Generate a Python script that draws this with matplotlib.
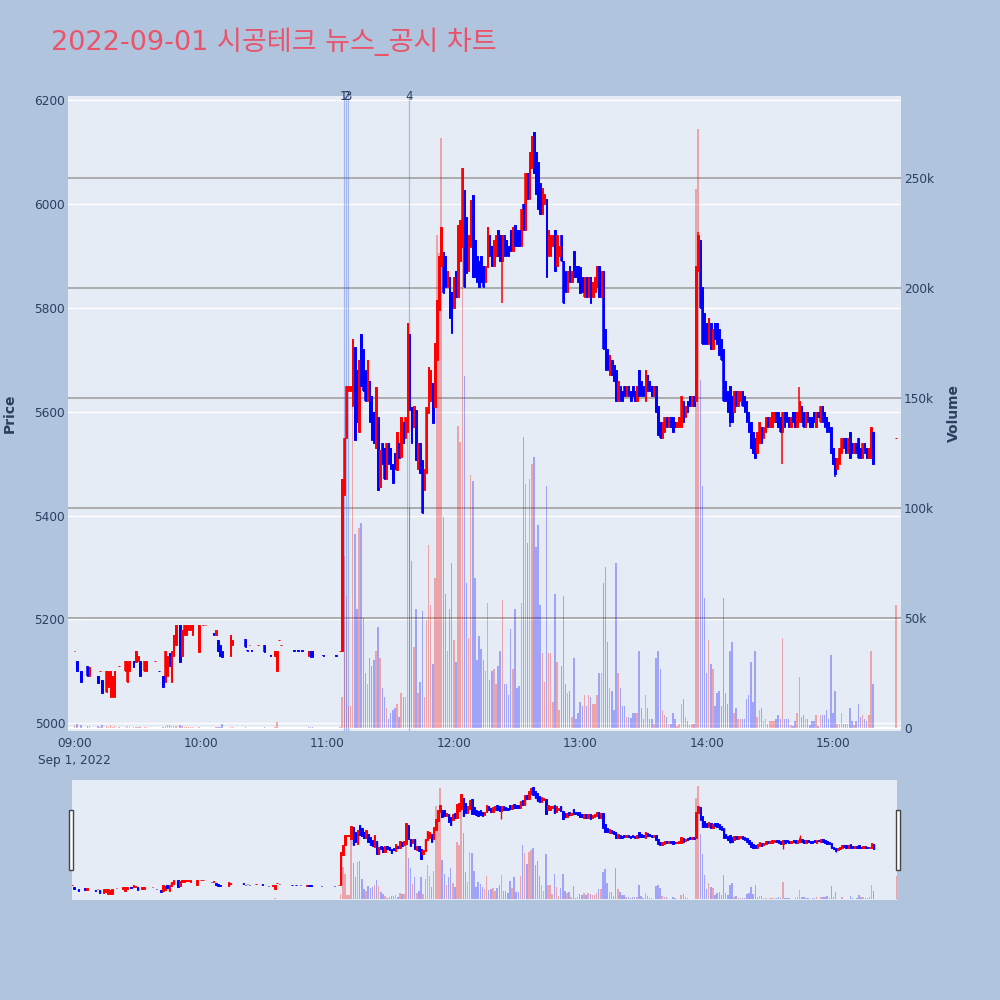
import matplotlib
matplotlib.use("Agg")
import matplotlib.pyplot as plt
import matplotlib.transforms as mtransforms
from matplotlib.patches import Rectangle

# ---------------- data ----------------
title = "2022-09-01 시공테크 뉴스_공시 차트"

morning_times = ["09:00", "09:01", "09:03", "09:06", "09:07", "09:11", "09:12", "09:13", "09:15", "09:16",
                 "09:17", "09:18", "09:19", "09:21", "09:24", "09:25", "09:26", "09:28", "09:29", "09:30",
                 "09:31", "09:33", "09:34", "09:38", "09:40", "09:42", "09:43", "09:44", "09:45", "09:46",
                 "09:47", "09:48", "09:50", "09:51", "09:52", "09:53", "09:54", "09:55", "09:56", "09:59",
                 "10:01", "10:02", "10:06", "10:07", "10:08", "10:09", "10:10", "10:14", "10:15", "10:21",
                 "10:22", "10:23", "10:24", "10:27", "10:30", "10:33", "10:35", "10:36", "10:37", "10:38",
                 "10:44", "10:46", "10:48", "10:51", "10:52", "10:53", "10:58", "11:04", "11:06"]
morning_open = [5140, 5120, 5100, 5110, 5090, 5090, 5100, 5083, 5060, 5070,
                5050, 5050, 5050, 5110, 5100, 5080, 5100, 5120, 5118, 5120,
                5120, 5100, 5100, 5120, 5101, 5090, 5080, 5090, 5135, 5080,
                5130, 5150, 5189, 5130, 5170, 5170, 5180, 5180, 5170, 5137,
                5190, 5190, 5173, 5170, 5160, 5150, 5140, 5130, 5150, 5162,
                5141, 5150, 5141, 5150, 5150, 5131, 5130, 5100, 5160, 5150,
                5141, 5141, 5141, 5130, 5140, 5140, 5131, 5131, 5140]
morning_close = [5140, 5100, 5080, 5090, 5108, 5078, 5100, 5058, 5100, 5100,
                 5100, 5090, 5100, 5110, 5120, 5120, 5120, 5108, 5140, 5130,
                 5090, 5120, 5120, 5120, 5100, 5070, 5140, 5130, 5110, 5140,
                 5170, 5190, 5118, 5180, 5190, 5190, 5190, 5190, 5190, 5190,
                 5190, 5190, 5170, 5180, 5140, 5130, 5128, 5170, 5160, 5147,
                 5140, 5150, 5140, 5150, 5137, 5130, 5140, 5140, 5160, 5150,
                 5140, 5140, 5140, 5140, 5128, 5128, 5130, 5130, 5140]
morning_volume = [1500, 2000, 1500, 1000, 1000, 800, 300, 1500, 800, 500,
                  1200, 600, 900, 200, 500, 700, 400, 300, 500, 300,
                  600, 400, 300, 100, 100, 600, 900, 1200, 1500, 800,
                  800, 1000, 1200, 900, 500, 300, 400, 300, 500, 400,
                  100, 100, 100, 300, 400, 300, 2000, 500, 300, 300,
                  100, 100, 100, 100, 400, 100, 200, 2500, 100, 100,
                  100, 100, 100, 300, 400, 300, 100, 100, 200]

session_times = [
    "11:07", "11:08", "11:09", "11:10", "11:11", "11:12", "11:13", "11:14", "11:15", "11:16",
    "11:17", "11:18", "11:19", "11:20", "11:21", "11:22", "11:23", "11:24", "11:25", "11:26",
    "11:27", "11:28", "11:29", "11:30", "11:31", "11:32", "11:33", "11:34", "11:35", "11:36",
    "11:37", "11:38", "11:39", "11:40", "11:41", "11:42", "11:43", "11:44", "11:45", "11:46",
    "11:47", "11:48", "11:49", "11:50", "11:51", "11:52", "11:53", "11:54", "11:55", "11:56",
    "11:57", "11:58", "11:59", "12:00", "12:01", "12:02", "12:03", "12:04", "12:05", "12:06",
    "12:07", "12:08", "12:09", "12:10", "12:11", "12:12", "12:13", "12:14", "12:15", "12:16",
    "12:17", "12:18", "12:19", "12:20", "12:21", "12:22", "12:23", "12:24", "12:25", "12:26",
    "12:27", "12:28", "12:29", "12:30", "12:31", "12:32", "12:33", "12:34", "12:35", "12:36",
    "12:37", "12:38", "12:39", "12:40", "12:41", "12:42", "12:43", "12:44", "12:45", "12:46",
    "12:47", "12:48", "12:49", "12:50", "12:51", "12:52", "12:53", "12:54", "12:55", "12:56",
    "12:57", "12:58", "12:59", "13:00", "13:01", "13:02", "13:03", "13:04", "13:05", "13:06",
    "13:07", "13:08", "13:09", "13:10", "13:11", "13:12", "13:13", "13:14", "13:15", "13:16",
    "13:17", "13:18", "13:19", "13:20", "13:21", "13:22", "13:23", "13:24", "13:25", "13:26",
    "13:27", "13:28", "13:29", "13:30", "13:31", "13:32", "13:33", "13:34", "13:35", "13:36",
    "13:37", "13:38", "13:39", "13:40", "13:41", "13:42", "13:43", "13:44", "13:45", "13:46",
    "13:47", "13:48", "13:49", "13:50", "13:51", "13:52", "13:53", "13:54", "13:55", "13:56",
    "13:57", "13:58", "13:59", "14:00", "14:01", "14:02", "14:03", "14:04", "14:05", "14:06",
    "14:07", "14:08", "14:09", "14:10", "14:11", "14:12", "14:13", "14:14", "14:15", "14:16",
    "14:17", "14:18", "14:19", "14:20", "14:21", "14:22", "14:23", "14:24", "14:25", "14:26",
    "14:27", "14:28", "14:29", "14:30", "14:31", "14:32", "14:33", "14:34", "14:35", "14:36",
    "14:37", "14:38", "14:39", "14:40", "14:41", "14:42", "14:43", "14:44", "14:45", "14:46",
    "14:47", "14:48", "14:49", "14:50", "14:51", "14:52", "14:53", "14:54", "14:55", "14:56",
    "14:57", "14:58", "14:59", "15:00", "15:01", "15:02", "15:03", "15:04", "15:05", "15:06",
    "15:07", "15:08", "15:09", "15:10", "15:11", "15:12", "15:13", "15:14", "15:15", "15:16",
    "15:17", "15:18", "15:19", "15:30"]
session_open = [
    5140, 5440, 5550, 5640, 5640, 5610, 5724, 5680, 5560, 5750,
    5720, 5680, 5620, 5660, 5630, 5600, 5530, 5590, 5455, 5540,
    5530, 5470, 5540, 5530, 5500, 5520, 5487, 5540, 5512, 5580,
    5550, 5560, 5750, 5609, 5570, 5603, 5490, 5540, 5507, 5450,
    5482, 5597, 5620, 5655, 5609, 5700, 5795, 5880, 5907, 5900,
    5840, 5860, 5830, 5800, 5870, 5820, 5890, 5917, 6027, 5975,
    5870, 5917, 6017, 5930, 5900, 5890, 5900, 5880, 5850, 5878,
    5940, 5920, 5880, 5900, 5950, 5940, 5890, 5940, 5930, 5920,
    5950, 5910, 5960, 5950, 5950, 5920, 6000, 5950, 6060, 6010,
    6070, 6138, 6100, 6080, 6040, 5980, 6000, 6010, 5900, 5900,
    5920, 5950, 5880, 5900, 5940, 5890, 5870, 5830, 5880, 5850,
    5910, 5880, 5880, 5878, 5860, 5820, 5860, 5820, 5860, 5820,
    5830, 5840, 5880, 5820, 5870, 5760, 5720, 5670, 5700, 5690,
    5680, 5620, 5650, 5640, 5650, 5630, 5650, 5640, 5650, 5640,
    5620, 5680, 5660, 5650, 5620, 5670, 5660, 5650, 5630, 5650,
    5610, 5580, 5550, 5560, 5590, 5570, 5590, 5590, 5580, 5570,
    5570, 5570, 5620, 5590, 5620, 5630, 5610, 5630, 5620, 5870,
    5930, 5840, 5790, 5770, 5730, 5770, 5720, 5770, 5770, 5760,
    5740, 5720, 5660, 5640, 5650, 5630, 5600, 5640, 5610, 5620,
    5640, 5630, 5620, 5600, 5580, 5560, 5550, 5520, 5540, 5570,
    5550, 5560, 5590, 5570, 5570, 5580, 5600, 5600, 5590, 5560,
    5600, 5600, 5590, 5570, 5600, 5600, 5570, 5580, 5610, 5600,
    5570, 5600, 5590, 5590, 5600, 5570, 5600, 5580, 5610, 5600,
    5590, 5580, 5570, 5530, 5510, 5490, 5500, 5520, 5550, 5550,
    5520, 5560, 5540, 5520, 5540, 5550, 5530, 5510, 5540, 5530,
    5510, 5510, 5560, 5550]
session_close = [
    5470, 5550, 5650, 5650, 5650, 5740, 5545, 5580, 5700, 5650,
    5640, 5620, 5700, 5580, 5545, 5540, 5647, 5450, 5526, 5500,
    5470, 5540, 5500, 5490, 5462, 5490, 5560, 5510, 5590, 5540,
    5590, 5770, 5603, 5540, 5610, 5507, 5540, 5482, 5405, 5490,
    5609, 5686, 5680, 5578, 5732, 5815, 5900, 5955, 5828, 5840,
    5870, 5780, 5751, 5860, 5820, 5960, 5970, 6069, 5840, 5867,
    5940, 6007, 5859, 5860, 5850, 5840, 5850, 5840, 5880, 5955,
    5900, 5880, 5930, 5940, 5900, 5890, 5940, 5900, 5900, 5900,
    5910, 5955, 5920, 5920, 5920, 5990, 5950, 6060, 6010, 6100,
    6130, 6060, 6020, 5990, 5980, 6030, 6020, 5860, 5950, 5940,
    5940, 5870, 5940, 5920, 5890, 5810, 5830, 5870, 5850, 5870,
    5860, 5860, 5850, 5828, 5830, 5860, 5820, 5860, 5810, 5850,
    5860, 5880, 5820, 5870, 5720, 5680, 5680, 5710, 5670, 5660,
    5620, 5660, 5620, 5620, 5630, 5650, 5630, 5620, 5630, 5620,
    5650, 5630, 5630, 5630, 5680, 5640, 5640, 5630, 5650, 5600,
    5555, 5550, 5580, 5590, 5570, 5590, 5570, 5560, 5570, 5580,
    5590, 5630, 5580, 5610, 5600, 5610, 5630, 5610, 5880, 5940,
    5800, 5730, 5730, 5730, 5780, 5720, 5760, 5740, 5730, 5710,
    5700, 5620, 5620, 5600, 5580, 5580, 5640, 5610, 5640, 5640,
    5610, 5600, 5580, 5560, 5530, 5520, 5510, 5560, 5580, 5540,
    5570, 5590, 5570, 5590, 5600, 5600, 5580, 5570, 5560, 5600,
    5570, 5580, 5570, 5590, 5580, 5570, 5600, 5620, 5580, 5570,
    5600, 5580, 5570, 5570, 5580, 5600, 5590, 5610, 5580, 5570,
    5560, 5560, 5520, 5500, 5480, 5510, 5530, 5550, 5530, 5520,
    5550, 5510, 5520, 5540, 5520, 5510, 5510, 5540, 5520, 5510,
    5530, 5570, 5500, 5550]
session_volume = [
    14000, 78000, 60000, 10000, 10000, 176000, 88000, 54000, 91000, 93000,
    50000, 25000, 20000, 32000, 28000, 31000, 35000, 46000, 32000, 18000,
    14000, 9000, 4000, 7000, 8000, 9000, 11000, 5000, 16000, 14000,
    14000, 184000, 100000, 76000, 37000, 54000, 16000, 21000, 53000, 14000,
    49000, 83000, 56000, 29000, 68000, 224000, 216000, 268000, 96000, 61000,
    35000, 54000, 75000, 40000, 30000, 137000, 130000, 240000, 160000, 66000,
    41000, 115000, 112000, 68000, 31000, 42000, 36000, 31000, 26000, 57000,
    22000, 26000, 27000, 20000, 28000, 35000, 58000, 20000, 20000, 15000,
    45000, 27000, 54000, 18000, 19000, 57000, 132000, 111000, 84000, 113000,
    120000, 123000, 82000, 92000, 56000, 34000, 21000, 110000, 34000, 34000,
    12000, 61000, 30000, 8000, 28000, 60000, 20000, 16000, 17000, 5000,
    32000, 4000, 7000, 12000, 10000, 15000, 10000, 15000, 14000, 11000,
    11000, 15000, 25000, 25000, 66000, 73000, 39000, 18000, 17000, 8000,
    75000, 25000, 18000, 10000, 10000, 5000, 5000, 4500, 7000, 7000,
    7000, 35000, 9000, 4000, 15000, 9000, 4000, 4000, 2000, 32000,
    35000, 27000, 8000, 6000, 5000, 2000, 2000, 7000, 4000, 1000,
    2000, 11000, 13000, 5000, 3000, 1500, 2000, 2000, 245000, 272000,
    158000, 110000, 59000, 25000, 40000, 29000, 27000, 10000, 16000, 17000,
    10000, 59000, 16000, 11000, 35000, 39000, 7000, 9000, 4000, 4000,
    4000, 4000, 13000, 15000, 30000, 12000, 35000, 5000, 8000, 9000,
    3000, 4000, 2000, 3000, 3000, 3000, 4000, 6000, 4000, 41000,
    4000, 4000, 4000, 1500, 1000, 3000, 7000, 23000, 5000, 6000,
    4000, 4000, 1500, 3000, 3000, 6000, 1000, 6000, 6000, 6000,
    8000, 4000, 33000, 7000, 17000, 2000, 2000, 7000, 2000, 2000,
    2000, 9000, 3000, 1500, 3000, 11000, 5000, 6000, 4000, 3000,
    6000, 35000, 20000, 56000]

wick_high = {"13:56": 5946, "14:44": 5647}
wick_low = {"12:23": 5809, "14:36": 5500, "14:11": 5570, "15:01": 5474}

news_times = ["11:07:42", "11:08:48", "11:09:54", "11:38:36"]
news_labels = ["1", "2", "3", "4"]

price_ticks = [5000, 5200, 5400, 5600, 5800, 6000, 6200]
volume_ticks = [0, 50000, 100000, 150000, 200000, 250000]
volume_tick_labels = ["0", "50k", "100k", "150k", "200k", "250k"]
time_ticks = ["09:00", "10:00", "11:00", "12:00", "13:00", "14:00", "15:00"]
time_tick_labels = ["09:00\nSep 1, 2022", "10:00", "11:00", "12:00", "13:00", "14:00", "15:00"]

# ---------------- styling ----------------
BG = "#B0C4DE"
PLOT_BG = "#E5ECF6"
TXT = "#2a3f5f"
INC = "#FF0000"
DEC = "#0000FF"
plt.rcParams["font.family"] = ["DejaVu Sans", "Noto Sans CJK KR"]


def to_min(t):
    parts = [int(p) for p in t.split(":")]
    s = parts[2] if len(parts) > 2 else 0
    return (parts[0] - 9) * 60 + parts[1] + s / 60.0


times = morning_times + session_times
opens = morning_open + session_open
closes = morning_close + session_close
volumes = morning_volume + session_volume
assert len(times) == len(opens) == len(closes) == len(volumes)

xs = [to_min(t) for t in times]
highs = [max(o, c) for o, c in zip(opens, closes)]
lows = [min(o, c) for o, c in zip(opens, closes)]
body_bottom = [min(o, c) for o, c in zip(opens, closes)]
body_height = [abs(c - o) for o, c in zip(opens, closes)]
for t, v in wick_high.items():
    i = times.index(t)
    highs[i] = max(highs[i], v)
for t, v in wick_low.items():
    i = times.index(t)
    lows[i] = min(lows[i], v)
colors = [INC if c >= o else DEC for o, c in zip(opens, closes)]


def draw_candles(ax, body_w=0.7, edge_lw=0.7, wick_lw=1.1):
    ax.vlines(xs, lows, highs, colors=colors, linewidth=wick_lw, zorder=3)
    ax.bar(xs, body_height, bottom=body_bottom, width=body_w, color=colors,
           edgecolor=colors, linewidth=edge_lw, zorder=4)


def draw_volume(ax, w=0.7):
    ax.bar(xs, volumes, width=w, color=colors, alpha=0.3, linewidth=0, zorder=2)


PRICE_LIM = (4985, 6208)
VOL_LIM = (-1400, 287200)
XLIM = (-3.2, 392.3)

fig = plt.figure(figsize=(10, 10), dpi=100, facecolor=BG)

rect = [0.068, 0.269, 0.833, 0.635]
ax_grid = fig.add_axes(rect, facecolor=PLOT_BG)
ax_vol = ax_grid.twinx()
ax_price = fig.add_axes(rect, sharex=ax_grid, sharey=ax_grid)
ax_grid.set_zorder(0)
ax_vol.set_zorder(1)
ax_price.set_zorder(2)
ax_vol.patch.set_visible(False)
ax_price.patch.set_visible(False)

for a in (ax_grid, ax_vol, ax_price):
    for s in a.spines.values():
        s.set_visible(False)

ax_grid.set_xlim(*XLIM)
ax_grid.set_ylim(*PRICE_LIM)
ax_grid.set_yticks(price_ticks)
ax_grid.set_yticklabels([str(p) for p in price_ticks])
ax_grid.set_axisbelow(True)
ax_grid.grid(axis="y", color="white", linewidth=1.0)
ax_grid.grid(axis="x", visible=False)
ax_grid.set_xticks([to_min(t) for t in time_ticks])
ax_grid.set_xticklabels(time_tick_labels)
ax_grid.tick_params(axis="both", length=0, labelsize=8.7, labelcolor=TXT)
ax_grid.tick_params(axis="y", pad=2)
ax_grid.tick_params(axis="x", pad=4)
for lab in ax_grid.get_xticklabels():
    lab.set_linespacing(1.4)

ax_vol.set_ylim(*VOL_LIM)
ax_vol.set_yticks(volume_ticks)
ax_vol.set_yticklabels(volume_tick_labels)
ax_vol.tick_params(axis="y", length=0, labelsize=8.7, labelcolor=TXT, pad=2)
ax_vol.set_axisbelow(True)
ax_vol.grid(axis="y", color="#9a9a9a", linewidth=1.1)
ax_vol.axhline(0, color="white", linewidth=1.5, zorder=1)
draw_volume(ax_vol)

ax_price.tick_params(left=False, bottom=False, labelleft=False, labelbottom=False)
draw_candles(ax_price)

trans = mtransforms.blended_transform_factory(ax_price.transData, ax_price.transAxes)
for t, lab in zip(news_times, news_labels):
    xm = to_min(t)
    ax_price.axvline(xm, color="#4169E1", alpha=0.4, linewidth=0.9, zorder=1)
    ax_price.text(xm, 1.0, lab, transform=trans, ha="center", va="center",
                  fontsize=8.5, color=TXT, clip_on=False)

fig.text(0.051, 0.958, title, fontsize=19.5, color="#E9546B", ha="left", va="center",
         family=["DejaVu Sans", "Noto Sans CJK KR"])
fig.text(0.010, 0.587, "Price", rotation=90, fontsize=10, fontweight="bold",
         color=TXT, ha="center", va="center")
fig.text(0.954, 0.587, "Volume", rotation=90, fontsize=10, fontweight="bold",
         color=TXT, ha="center", va="center")

# ---------------- range slider ----------------
srect = [0.072, 0.100, 0.825, 0.120]
ax_sv = fig.add_axes(srect, facecolor=PLOT_BG)
ax_sp = fig.add_axes(srect, sharex=ax_sv)
ax_sp.patch.set_visible(False)
for a in (ax_sv, ax_sp):
    for s in a.spines.values():
        s.set_visible(False)
    a.set_xticks([])
    a.set_yticks([])
ax_sv.set_xlim(0, 390)
ax_sv.set_ylim(*VOL_LIM)
ax_sp.set_ylim(*PRICE_LIM)
draw_volume(ax_sv)
draw_candles(ax_sp, body_w=0.7, edge_lw=0.7, wick_lw=1.0)

for hx in (0.0688, 0.8955):
    fig.add_artist(Rectangle((hx, 0.130), 0.0042, 0.060, transform=fig.transFigure,
                             facecolor="white", edgecolor="#444444", linewidth=1.0))

fig.savefig("out.png", dpi=100, facecolor=BG)
